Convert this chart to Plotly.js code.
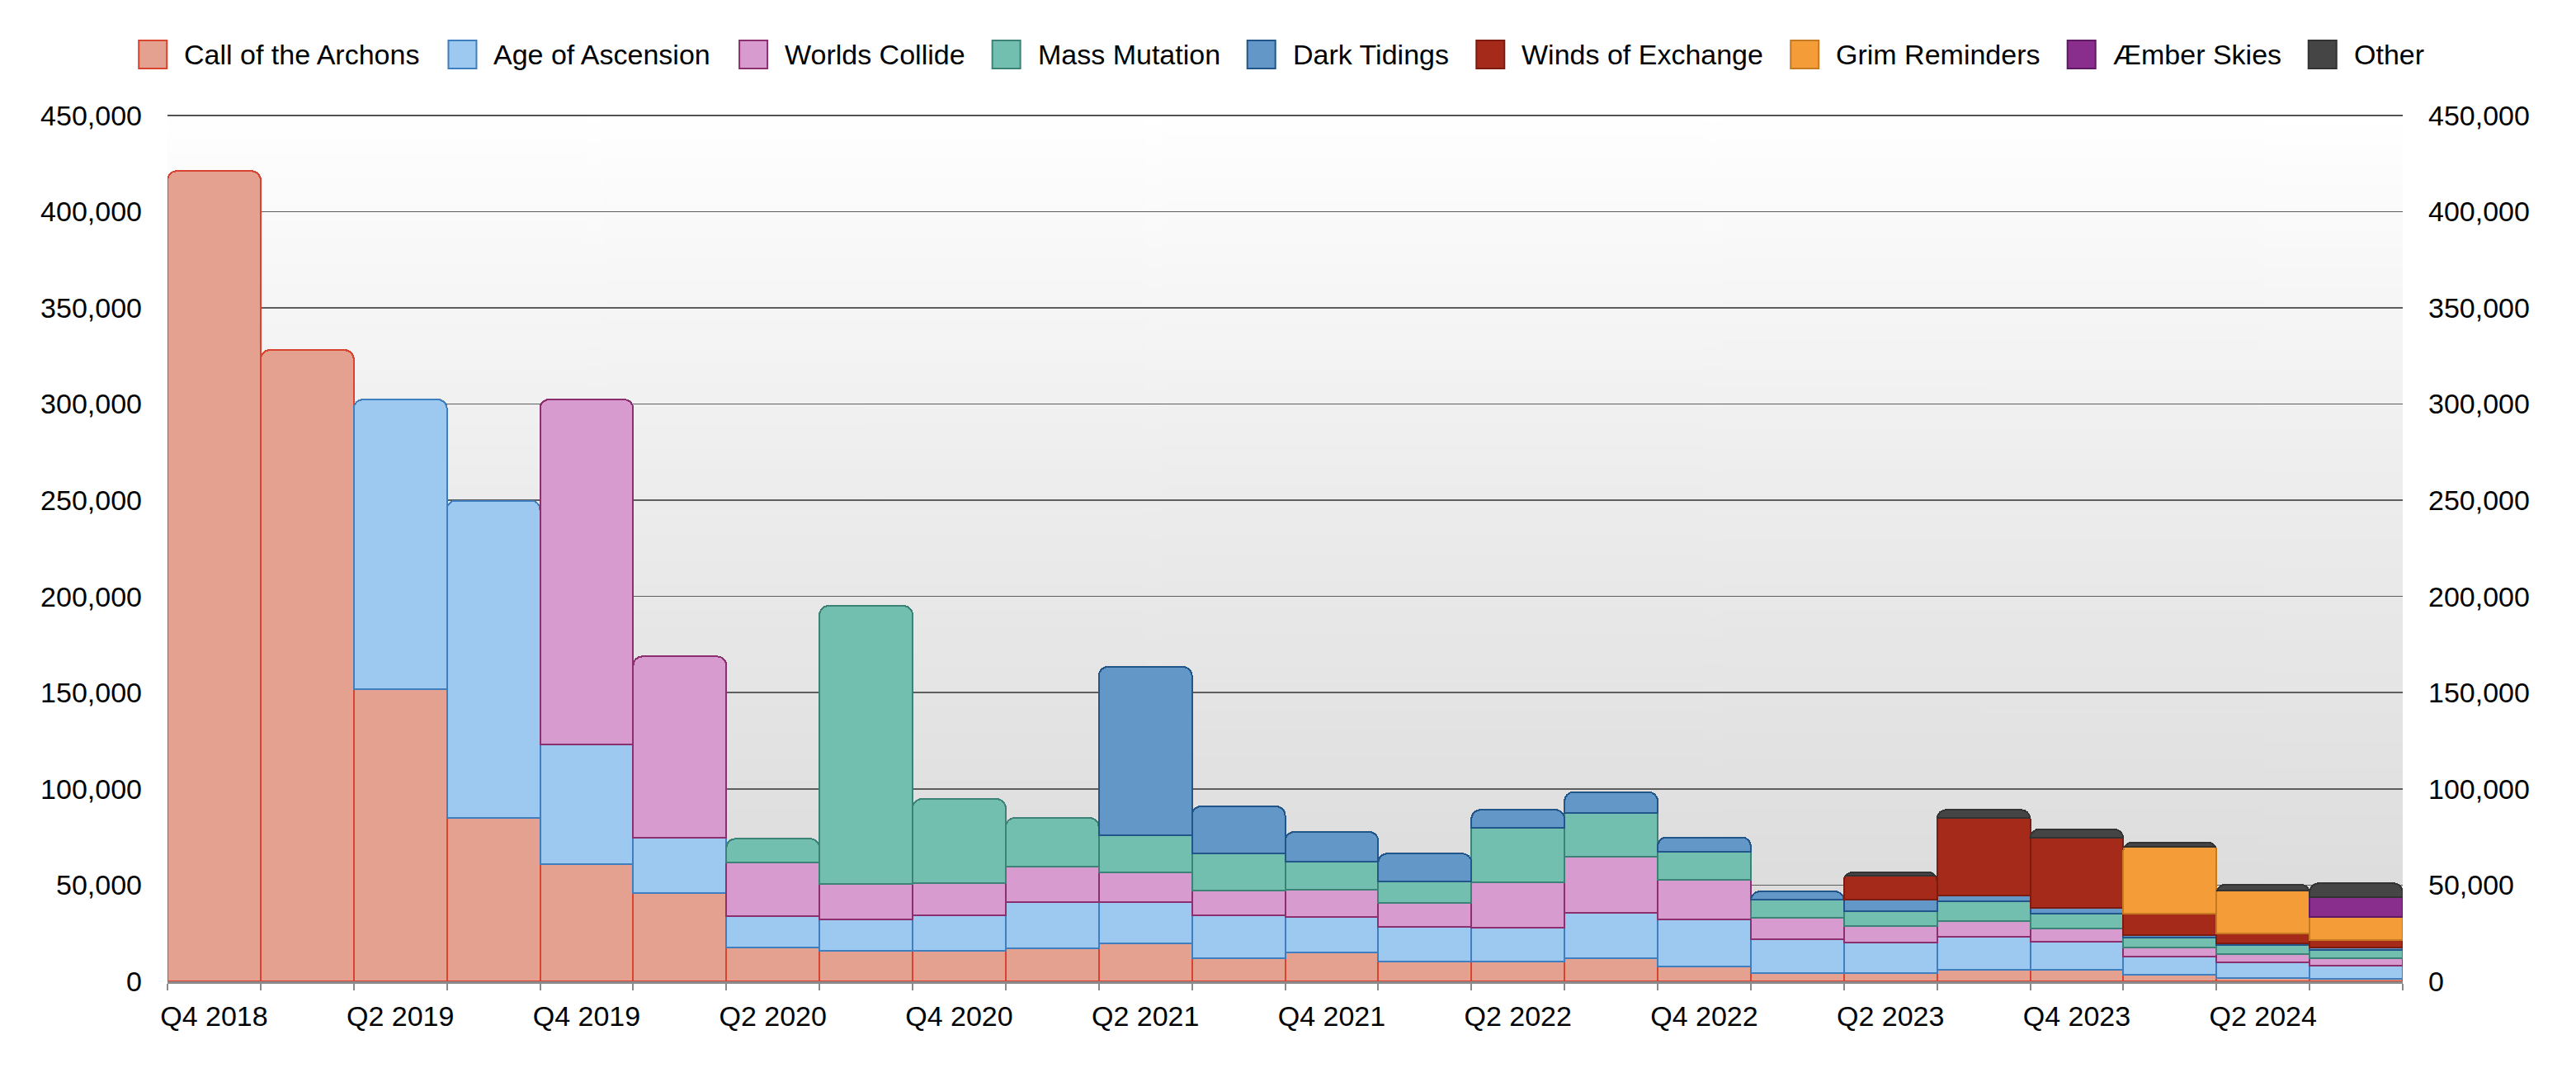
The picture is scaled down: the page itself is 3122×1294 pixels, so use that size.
<!DOCTYPE html>
<html>
<head>
<meta charset="utf-8">
<script src="https://cdn.plot.ly/plotly-3.0.1.min.js"></script>
<style>
  html, body { margin: 0; padding: 0; background: #ffffff; }
  #chart { width: 3122px; height: 1294px; }
</style>
</head>
<body>
<div id="chart"></div>
<script>
// ---------- DATA ----------
const quarters = ['Q4 2018','Q1 2019','Q2 2019','Q3 2019','Q4 2019','Q1 2020','Q2 2020','Q3 2020',
  'Q4 2020','Q1 2021','Q2 2021','Q3 2021','Q4 2021','Q1 2022','Q2 2022','Q3 2022',
  'Q4 2022','Q1 2023','Q2 2023','Q3 2023','Q4 2023','Q1 2024','Q2 2024','Q3 2024'];

const seriesNames = ['Call of the Archons','Age of Ascension','Worlds Collide','Mass Mutation',
  'Dark Tidings','Winds of Exchange','Grim Reminders','Æmber Skies','Other'];

const archons   = [421000, 328000, 152000, 85000, 61000, 45800, 17400, 16000, 15900, 17300, 19900, 12100,
                   15100, 10400, 10400, 12100, 7900, 4400, 4300, 5800, 5800, 3500, 1900, 1400];
const ascension = [null, null, 150300, 164800, 62200, 28900, 16400, 16300, 18400, 23900, 21300, 22200,
                   18500, 18100, 17300, 23300, 24100, 17500, 15800, 17200, 14900, 9500, 8100, 6900];
const worlds    = [null, null, null, null, 179100, 94100, 27800, 18200, 16900, 18600, 15200, 12800,
                   14200, 12400, 23600, 29300, 20600, 11000, 8700, 8400, 6600, 4600, 4200, 3600];
const mass      = [null, null, null, null, null, null, 12500, 144600, 43500, 25100, 19600, 19400,
                   14300, 11100, 28300, 22700, 14800, 9500, 7500, 10000, 8000, 5100, 4800, 4400];
const dark      = [null, null, null, null, null, null, null, null, null, null, 87400, 24400,
                   15500, 14400, 9500, 10900, 7400, 4300, 6100, 3200, 2700, 1300, 900, 1300];
const winds     = [null, null, null, null, null, null, null, null, null, null, null, null,
                   null, null, null, null, null, null, 12300, 40300, 36800, 11300, 5100, 4000];
const grim      = [null, null, null, null, null, null, null, null, null, null, null, null,
                   null, null, null, null, null, null, null, null, null, 34500, 22200, 11900];
const aember    = [null, null, null, null, null, null, null, null, null, null, null, null,
                   null, null, null, null, null, null, null, null, null, null, null, 10400];
const other     = [null, null, null, null, null, null, null, null, null, null, null, null,
                   null, null, null, null, null, null, 2000, 4200, 4200, 2400, 3000, 7000];

const seriesValues = [archons, ascension, worlds, mass, dark, winds, grim, aember, other];

// tick labels: every other quarter is labelled
const tickLabels = quarters.map((q, i) => (i % 2 === 0 ? q : ''));

// ---------- STYLE ----------
const fills   = ['#e5a190','#9dc8ef','#d89bd0','#72bfb0','#6297c8','#a62a1a','#f39c38','#8a2e8e','#454545'];
const borders = ['#d8442f','#3f7fbf','#8b2f6f','#3d8276','#22568a','#7c1b10','#c57a22','#5e1a62','#333333'];

const W = 3122, H = 1294;
const M = { l: 203, r: 210, t: 139, b: 105 };
const plotW = W - M.l - M.r, plotH = H - M.t - M.b;
const FONT = '"Liberation Sans", Arial, Helvetica, sans-serif';
const FS = 34;
const Y_MAX = 450000;

const traces = seriesNames.map((name, k) => ({
  type: 'bar',
  name: name,
  x: quarters,
  y: seriesValues[k],
  marker: { color: fills[k], line: { color: borders[k], width: 2 } },
  hoverinfo: 'skip',
  showlegend: false
}));
// empty trace so that the mirrored right-hand value axis is drawn (draws no mark)
traces.push({ type: 'scatter', mode: 'markers', x: [], y: [], yaxis: 'y2', showlegend: false, hoverinfo: 'skip' });

// gradient background image
function gradientURL() {
  const c = document.createElement('canvas');
  c.width = 8; c.height = 512;
  const g = c.getContext('2d');
  const lg = g.createLinearGradient(0, 0, 0, 512);
  lg.addColorStop(0, '#ffffff');
  lg.addColorStop(0.45, '#ececec');
  lg.addColorStop(1, '#d9d9d9');
  g.fillStyle = lg;
  g.fillRect(0, 0, 8, 512);
  return c.toDataURL('image/png');
}

// custom legend (large swatches)
const px2x = X => (X - M.l) / plotW;
const px2y = Y => (H - M.b - Y) / plotH;
const meas = document.createElement('canvas').getContext('2d');
meas.font = FS + 'px "Liberation Sans"';
const SW = 34, GAP1 = 21, GAP2 = 33, LEG_CY = 66, LEG_CX = 1553;
const widths = seriesNames.map(n => meas.measureText(n).width);
const total = widths.reduce((a, w) => a + SW + GAP1 + w, 0) + GAP2 * (seriesNames.length - 1);
let cx = LEG_CX - total / 2;
const shapes = [], annotations = [];
seriesNames.forEach((n, k) => {
  shapes.push({
    type: 'rect', xref: 'paper', yref: 'paper',
    x0: px2x(cx), x1: px2x(cx + SW), y0: px2y(LEG_CY + SW / 2), y1: px2y(LEG_CY - SW / 2),
    fillcolor: fills[k], line: { color: borders[k], width: 2 }
  });
  annotations.push({
    xref: 'paper', yref: 'paper', x: px2x(cx + SW + GAP1 - 2), y: px2y(LEG_CY),
    xanchor: 'left', yanchor: 'middle', showarrow: false, text: n,
    font: { family: FONT, size: FS, color: '#000000' }
  });
  cx += SW + GAP1 + widths[k] + GAP2;
});
// top frame line at the maximum of the value axis
shapes.push({
  type: 'line', xref: 'paper', yref: 'y', x0: 0, x1: 1, y0: Y_MAX, y1: Y_MAX,
  line: { color: '#3a3a3a', width: 2 }, layer: 'below'
});

const yRange = [0, Y_MAX + 300];
const layout = {
  width: W, height: H,
  margin: M,
  barmode: 'stack',
  bargap: 0,
  barcornerradius: 11,
  paper_bgcolor: '#ffffff',
  plot_bgcolor: 'rgba(0,0,0,0)',
  font: { family: FONT, size: FS, color: '#000000' },
  showlegend: false,
  hovermode: false,
  xaxis: {
    type: 'category',
    tickmode: 'array',
    tickvals: quarters,
    ticktext: tickLabels,
    tickangle: 0,
    tickson: 'boundaries',
    ticks: 'outside', ticklen: 8, tickwidth: 2, tickcolor: '#8a8a8a',
    showline: true, linecolor: '#8a8a8a', linewidth: 3,
    showgrid: false, zeroline: false,
    ticklabelstandoff: 10,
    tickfont: { family: FONT, size: FS, color: '#000000' }
  },
  yaxis: {
    range: yRange, tickmode: 'linear', tick0: 0, dtick: 50000, tickformat: ',',
    showgrid: true, gridcolor: '#5e5e5e', gridwidth: 1.5,
    zeroline: false, showline: false, ticks: '',
    ticklabelstandoff: 30,
    tickfont: { family: FONT, size: FS, color: '#000000' }
  },
  yaxis2: {
    overlaying: 'y', side: 'right', anchor: 'x',
    range: yRange, tickmode: 'linear', tick0: 0, dtick: 50000, tickformat: ',',
    showgrid: false, zeroline: false, showline: false, ticks: '',
    ticklabelstandoff: 30,
    tickfont: { family: FONT, size: FS, color: '#000000' }
  },
  images: [{
    source: gradientURL(), xref: 'paper', yref: 'paper',
    x: 0, y: 1, sizex: 1, sizey: 1, sizing: 'stretch',
    xanchor: 'left', yanchor: 'top', layer: 'below'
  }],
  shapes: shapes,
  annotations: annotations
};

Plotly.newPlot('chart', traces, layout, { displayModeBar: false, staticPlot: true });
</script>
</body>
</html>
